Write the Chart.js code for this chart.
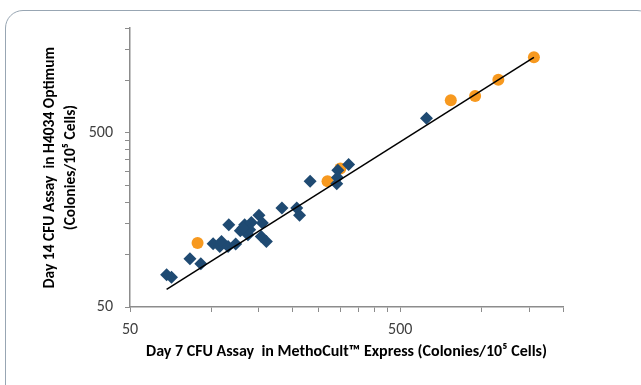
<!DOCTYPE html>
<html>
<head>
<meta charset="utf-8">
<script src="https://cdn.jsdelivr.net/npm/chart.js@4"></script>
<style>
  html, body { margin: 0; padding: 0; background: #fff; }
  .wrap { position: relative; width: 641px; height: 385px; overflow: hidden; }
  .frame { position: absolute; left: 5px; top: 10px; width: 650px; height: 395px;
           border: 1.5px solid #98a6b3; border-radius: 18px; box-sizing: border-box; }
  canvas { position: absolute; left: 0; top: 0; }
</style>
</head>
<body>
<div class="wrap">
  <div class="frame"></div>
  <canvas id="chart" width="641" height="385"></canvas>
</div>
<script>
// MethoCult Express (day 7) vs H4034 Optimum (day 14), colonies per 10^5 cells
const blueX = [68.3, 71.2, 83.3, 91.4, 101.5, 107.4, 109, 115.3, 123, 116, 128, 132.8, 136.6, 140.6, 138.6, 130.9,
  150, 154.4, 153, 159.8, 182.4, 207, 212, 232, 291, 293.6, 292.8, 322, 625];
const blueY = [76.5, 74, 94.6, 88.5, 115.4, 111.3, 118.9, 111.3, 114.9, 148.5, 137, 148.5, 130, 153, 139, 142,
  168, 152, 127, 118.9, 185, 185, 168, 264, 255, 305, 277, 329, 606];
const orangeX = [88.9, 269, 300, 769, 946, 1153, 1561];
const orangeY = [116.5, 264, 312, 770, 815, 1008, 1357];
const trendX = [68.3, 1561];
const trendY = [63.2, 1357];

const tickValues = [50, 100, 150, 200, 250, 300, 350, 400, 450, 500, 1000, 1500, 2000];
const labelledTicks = [50, 500];

const toPoints = (xs, ys) => xs.map((x, i) => ({x: x, y: ys[i]}));

const family = 'Calibri, Carlito, Lato, "Open Sans", sans-serif';
const axisFont = {family: family, size: 16};
const titleFont = (size) => ({family: family, size: size, weight: 'bold', lineHeight: 1.4});

const logAxis = (extra) => Object.assign({
  type: 'logarithmic',
  min: 50,
  max: 2000,
  afterBuildTicks: (scale) => {
    scale.ticks = tickValues.map((v) => ({value: v}));
  },
  grid: {drawOnChartArea: false, tickLength: 5, color: '#8c8c8c', lineWidth: 1},
  border: {color: '#8c8c8c', width: 1.5}
}, extra);

const tickOpts = (pad) => ({
  autoSkip: false,
  maxRotation: 0,
  color: '#404040',
  font: axisFont,
  padding: pad,
  callback: (v) => (labelledTicks.includes(v) ? String(v) : '')
});

new Chart(document.getElementById('chart'), {
  type: 'scatter',
  data: {
    datasets: [
      {
        type: 'line',
        data: toPoints(trendX, trendY),
        borderColor: '#000',
        borderWidth: 1.5,
        pointRadius: 0,
        fill: false,
        order: 0
      },
      {
        data: toPoints(blueX, blueY),
        pointStyle: 'rectRot',
        pointRadius: 6.5,
        backgroundColor: '#1f4a72',
        borderWidth: 0,
        order: 1
      },
      {
        data: toPoints(orangeX, orangeY),
        pointStyle: 'circle',
        pointRadius: 6,
        backgroundColor: '#f7991f',
        borderWidth: 0,
        order: 2
      }
    ]
  },
  options: {
    responsive: false,
    animation: false,
    layout: {padding: {top: 28, right: 78, left: 39, bottom: 22}},
    plugins: {legend: {display: false}, tooltip: {enabled: false}},
    scales: {
      x: logAxis({
        afterFit: (scale) => { scale.height = 56; },
        ticks: tickOpts(8),
        title: {
          display: true,
          text: 'Day 7 CFU Assay  in MethoCult\u2122 Express (Colonies/10\u2075 Cells)',
          color: '#000',
          font: titleFont(16),
          padding: 0
        }
      }),
      y: logAxis({
        afterFit: (scale) => { scale.width = 91; },
        ticks: tickOpts(12),
        title: {
          display: true,
          text: ['Day 14 CFU Assay  in H4034 Optimum', '(Colonies/10\u2075 Cells)'],
          color: '#000',
          font: titleFont(15.5),
          padding: 0
        }
      })
    }
  }
});
</script>
</body>
</html>
